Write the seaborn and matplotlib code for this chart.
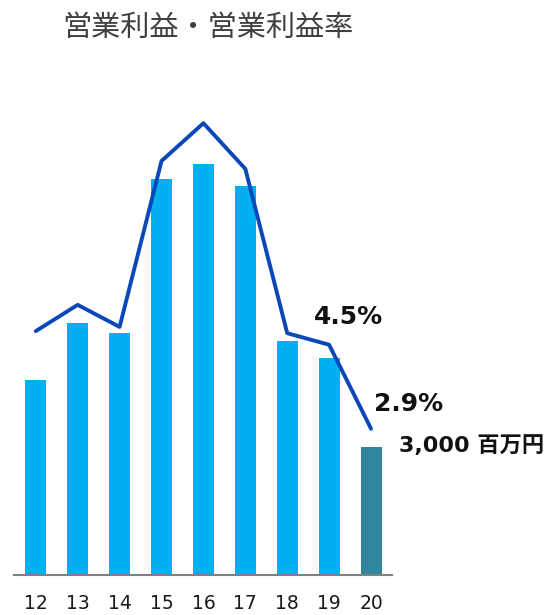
import numpy as np
import matplotlib
matplotlib.use("Agg")
import matplotlib.pyplot as plt
import seaborn as sns

years = ["12", "13", "14", "15", "16", "17", "18", "19", "20"]
profit = [4570, 5900, 5670, 9280, 9630, 9120, 5480, 5080, 3000]   # 百万円
rate = [4.76, 5.26, 4.84, 8.0, 8.72, 7.85, 4.72, 4.5, 2.9]        # %
title = "営業利益・営業利益率"
rate_labels = {7: "4.5%", 8: "2.9%"}
profit_label = "3,000 百万円"

sns.set_theme(style="white")
plt.rcParams['font.family'] = ['DejaVu Sans', 'Noto Sans CJK JP']

fig = plt.figure(figsize=(5.55, 6.15), dpi=100)
ax = fig.add_axes([14/555, 1-575/615, (392-14)/555, 475/615])

colors = ["#00B0F0"] * 8 + ["#31859C"]
sns.barplot(x=years, y=profit, hue=years, palette=colors, legend=False,
            width=0.5, linewidth=0, saturation=1, ax=ax)
ax.set_xlim(-0.52, 8.5)
ax.set_ylim(0, 475 * 3000 / 128)

ax2 = ax.twinx()
xs = np.arange(len(years))
sns.lineplot(x=xs, y=rate, color="#0A47B8", linewidth=2.8, ax=ax2)
ax2.set_ylim(6/52.5, (581-100)/52.5)

for a in (ax, ax2):
    for s in ["top", "right", "left"]:
        a.spines[s].set_visible(False)
    a.set_yticks([])
    a.set_ylabel("")
ax2.spines["bottom"].set_visible(False)
ax.spines["bottom"].set_color("#808080")
ax.spines["bottom"].set_linewidth(1.5)
ax.tick_params(axis="x", length=0, pad=14, labelsize=13.5, labelcolor="#1a1a1a")

offsets = {7: (-15, 28), 8: (3, 25)}
for i, lab in rate_labels.items():
    ax2.annotate(lab, xy=(i, rate[i]), xytext=offsets[i], textcoords="offset pixels",
                 ha="left", va="center", fontsize=18, fontweight="bold", color="#111111")

ax.annotate(profit_label, xy=(8, profit[8]), xytext=(28, 1), textcoords="offset pixels",
            ha="left", va="center", fontsize=16, fontweight="bold", color="#111111",
            family=['DejaVu Sans', 'Noto Sans CJK JP'])

fig.text(208/555, 1-28/615, title, ha="center", va="center", fontsize=21,
         color="#404040", family=['Noto Sans CJK JP', 'DejaVu Sans'])

fig.savefig("out.png", dpi=100)
